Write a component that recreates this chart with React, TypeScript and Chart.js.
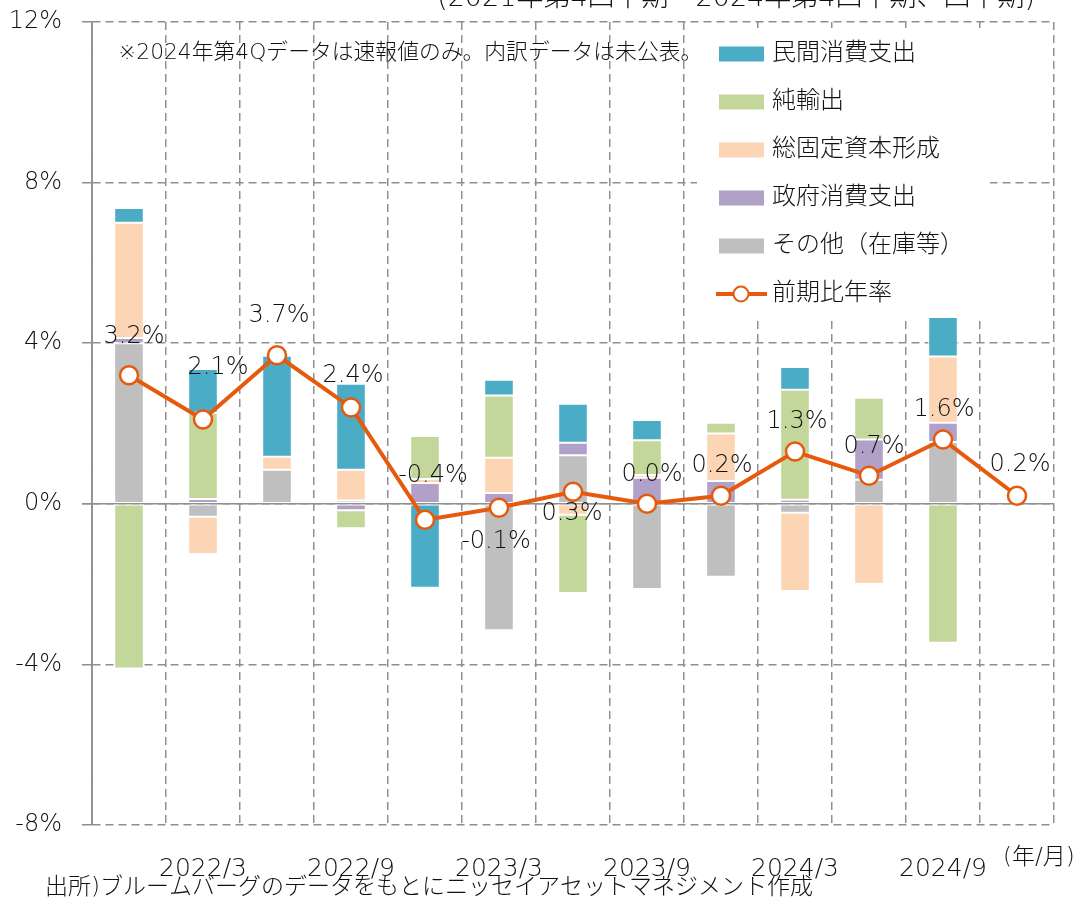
import React, { useEffect, useRef } from 'react';
import { Chart, registerables } from 'chart.js';

Chart.register(...registerables);

// ---------- data ----------
const CATEGORIES = [
  '2021/12', '2022/3', '2022/6', '2022/9', '2022/12', '2023/3', '2023/6',
  '2023/9', '2023/12', '2024/3', '2024/6', '2024/9', '2024/12',
];
const TICK_LABELS = ['', '2022/3', '', '2022/9', '', '2023/3', '', '2023/9', '', '2024/3', '', '2024/9', ''];

// contributions (percentage points)
const OTHER = [4.0, -0.32, 0.85, 0.08, null, -3.15, 1.21, -2.12, -1.82, -0.22, 0.6, 1.54, null];
const GOVERNMENT = [0.13, 0.12, null, -0.16, 0.52, 0.27, 0.31, 0.65, 0.57, 0.1, 1.0, 0.48, null];
const INVESTMENT = [2.87, -0.93, 0.32, 0.77, 0.1, 0.88, -0.27, 0.07, 1.18, -1.95, -2.0, 1.65, null];
const NET_EXPORTS = [-4.1, 2.15, null, -0.45, 1.07, 1.55, -1.95, 0.86, 0.27, 2.74, 1.04, -3.46, null];
const CONSUMPTION = [0.37, 1.09, 2.52, 2.14, -2.09, 0.39, 0.97, 0.51, null, 0.57, null, 1.4, null];
const GDP = [3.2, 2.1, 3.7, 2.4, -0.4, -0.1, 0.3, 0.0, 0.2, 1.3, 0.7, 1.6, 0.2];

const Y_MIN = -8;
const Y_MAX = 12;
const Y_STEP = 4;

const NAMES = {
  consumption: '民間消費支出',
  net: '純輸出',
  investment: '総固定資本形成',
  government: '政府消費支出',
  other: 'その他（在庫等）',
  gdp: '前期比年率',
};

const TITLE = '(2021年第4四半期～2024年第4四半期、四半期)';
const NOTE = '※2024年第4Qデータは速報値のみ。内訳データは未公表。';
const UNIT = '(年/月)';
const SOURCE = '出所)ブルームバーグのデータをもとにニッセイアセットマネジメント作成';

// ---------- styles ----------
const FONT = '"DejaVu Sans", "Noto Sans CJK JP", sans-serif';
const W = '300';
const TEXT = '#111111';
const GRID = '#8f8f8f';
const C_BLUE = '#4BACC6';
const C_GREEN = '#C4D79B';
const C_PEACH = '#FCD5B4';
const C_PURPLE = '#B1A0C7';
const C_GRAY = '#BFBFBF';
const C_LINE = '#E65A0E';

// label nudges relative to each point [dx, dy]
const LABEL_NUDGE: [number, number][] = [
  [5, -39], [15, -52], [2, -39], [2, -32], [8, -44], [-3, 34], [-1, 22],
  [5, -29], [1, -30], [2, -30], [5, -29], [1, -30], [3, -31],
];

const LEGEND_ORDER = [4, 3, 2, 1, 0, 5];

const overlayPlugin = {
  id: 'overlay',
  beforeDatasetsDraw(chart: any) {
    const { ctx, chartArea, scales } = chart;
    const y0 = scales.y.getPixelForValue(0);
    ctx.save();
    ctx.strokeStyle = GRID;
    ctx.lineWidth = 1.5;
    ctx.setLineDash([]);
    ctx.beginPath();
    ctx.moveTo(chartArea.left - 10, y0);
    ctx.lineTo(chartArea.right, y0);
    ctx.stroke();
    ctx.beginPath();
    ctx.moveTo(chartArea.left, chartArea.top);
    ctx.lineTo(chartArea.left, chartArea.bottom);
    ctx.stroke();
    ctx.restore();
  },
  afterDatasetsDraw(chart: any) {
    const { ctx } = chart;
    const meta = chart.getDatasetMeta(5);
    ctx.save();
    ctx.font = `${W} 24px ${FONT}`;
    ctx.fillStyle = TEXT;
    ctx.textAlign = 'center';
    ctx.textBaseline = 'middle';
    meta.data.forEach((pt: any, i: number) => {
      const v = GDP[i];
      const [dx, dy] = LABEL_NUDGE[i];
      ctx.fillText(`${v.toFixed(1)}%`, pt.x + dx, pt.y + dy);
    });
    ctx.restore();
  },
  afterDraw(chart: any) {
    const { ctx } = chart;
    ctx.save();
    // legend box
    ctx.fillStyle = '#ffffff';
    ctx.fillRect(697, 28, 293, 290);
    ctx.font = `${W} 24px ${FONT}`;
    ctx.textBaseline = 'middle';
    ctx.textAlign = 'left';
    LEGEND_ORDER.forEach((di, row) => {
      const ds = chart.data.datasets[di];
      const cy = 54 + row * 48;
      if (ds.type === 'line') {
        ctx.strokeStyle = C_LINE;
        ctx.lineWidth = 4;
        ctx.beginPath();
        ctx.moveTo(716, cy);
        ctx.lineTo(767, cy);
        ctx.stroke();
        ctx.beginPath();
        ctx.arc(741, cy, 7.5, 0, Math.PI * 2);
        ctx.fillStyle = '#ffffff';
        ctx.fill();
        ctx.lineWidth = 2;
        ctx.stroke();
      } else {
        ctx.fillStyle = ds.backgroundColor;
        ctx.fillRect(719, cy - 7.5, 45, 15);
      }
      ctx.fillStyle = TEXT;
      ctx.fillText(ds.label, 772, cy);
    });
    // note
    ctx.font = `${W} 21.8px ${FONT}`;
    ctx.fillText(NOTE, 118, 53);
    // title (top right, partly cut)
    ctx.font = `${W} 27px ${FONT}`;
    ctx.textAlign = 'right';
    ctx.fillText(TITLE, 1035, -1);
    // unit
    ctx.font = `${W} 23px ${FONT}`;
    ctx.textAlign = 'left';
    ctx.fillText(UNIT, 1003, 858);
    // source
    ctx.font = `${W} 23px ${FONT}`;
    ctx.fillText(SOURCE, 45, 888);
    ctx.restore();
  },
};

export default function App() {
  const ref = useRef<HTMLCanvasElement | null>(null);

  useEffect(() => {
    if (!ref.current) return;
    Chart.defaults.font.family = FONT;
    Chart.defaults.font.weight = W as any;
    Chart.defaults.color = TEXT;

    const bar = (label: string, data: any[], color: string) => ({
      type: 'bar' as const,
      label,
      data,
      backgroundColor: color,
      borderColor: '#ffffff',
      borderWidth: 1,
      borderSkipped: false,
      barPercentage: 0.4,
      categoryPercentage: 1,
      order: 1,
    });

    const chart = new Chart(ref.current, {
      type: 'bar',
      data: {
        labels: CATEGORIES,
        datasets: [
          bar(NAMES.other, OTHER, C_GRAY),
          bar(NAMES.government, GOVERNMENT, C_PURPLE),
          bar(NAMES.investment, INVESTMENT, C_PEACH),
          bar(NAMES.net, NET_EXPORTS, C_GREEN),
          bar(NAMES.consumption, CONSUMPTION, C_BLUE),
          {
            type: 'line' as const,
            label: NAMES.gdp,
            data: GDP,
            borderColor: C_LINE,
            borderWidth: 4,
            pointRadius: 9,
            pointBorderWidth: 2.5,
            pointBackgroundColor: '#ffffff',
            pointBorderColor: C_LINE,
            tension: 0,
            order: 0,
          } as any,
        ],
      },
      options: {
        responsive: false,
        animation: false,
        layout: { padding: { top: 22, right: 25, left: 0, bottom: 0 } },
        plugins: {
          legend: { display: false },
          tooltip: { enabled: false },
        },
        scales: {
          x: {
            stacked: true,
            offset: true,
            afterFit(scale: any) {
              scale.height = 76;
            },
            grid: {
              offset: true,
              color: GRID,
              lineWidth: 1.5,
              drawTicks: false,
            },
            border: { display: false, dash: [8, 5] },
            ticks: {
              autoSkip: false,
              maxRotation: 0,
              padding: 29,
              color: TEXT,
              font: { size: 25, weight: W as any },
              callback: (_v: any, i: number) => TICK_LABELS[i],
            },
          },
          y: {
            stacked: true,
            min: Y_MIN,
            max: Y_MAX,
            afterFit(scale: any) {
              scale.width = 92;
              scale.paddingTop = 0;
              scale.paddingBottom = 0;
            },
            grid: {
              color: GRID,
              lineWidth: 1.5,
              drawTicks: true,
              tickLength: 10,
              tickColor: GRID,
              tickWidth: 1.5,
              tickBorderDash: [],
            },
            border: { display: true, color: GRID, width: 1.5, dash: [8, 5] },
            ticks: {
              stepSize: Y_STEP,
              padding: 20,
              color: TEXT,
              font: { size: 24, weight: W as any },
              callback: (v: any) => `${v}%`,
            },
          },
        },
      },
      plugins: [overlayPlugin],
    });
    return () => chart.destroy();
  }, []);

  return (
    <div style={{ position: 'fixed', left: 0, top: 0, width: 1079, height: 901, background: '#fff' }}>
      <canvas ref={ref} width={1079} height={901} style={{ display: 'block' }} />
    </div>
  );
}
